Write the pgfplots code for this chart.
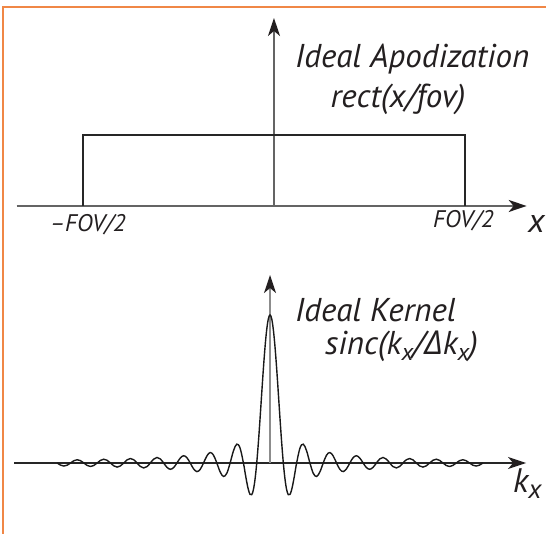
\documentclass[border=0pt]{standalone}
\usepackage{pgfplots}
\pgfplotsset{compat=1.18}
\usepackage{pgfplotstable}
\usetikzlibrary{arrows.meta}
\usepackage{fontspec}
\setmainfont{PT Sans}
\newfontfamily\greekfont{Open Sans}
\definecolor{borderorange}{RGB}{240,135,70}
\definecolor{txt}{RGB}{35,31,32}
\definecolor{axgray}{RGB}{100,100,100}

\pgfplotstableread{
x y
-16 0
-15.75 -0.0143
-15.5 -0.0205
-15.25 -0.0148
-15 0
-14.75 0.0153
-14.5 0.0220
-14.25 0.0158
-14 0
-13.75 -0.0164
-13.5 -0.0236
-13.25 -0.0170
-13 0
-12.75 0.0177
-12.5 0.0255
-12.25 0.0184
-12 0
-11.75 -0.0192
-11.5 -0.0277
-11.25 -0.0200
-11 0
-10.75 0.0209
-10.5 0.0303
-10.25 0.0220
-10 0
-9.75 -0.0231
-9.5 -0.0335
-9.25 -0.0243
-9 0
-8.75 0.0257
-8.5 0.0374
-8.25 0.0273
-8 0
-7.75 -0.0290
-7.5 -0.0424
-7.25 -0.0310
-7 0
-6.75 0.0333
-6.5 0.0490
-6.25 0.0360
-6 0
-5.75 -0.0391
-5.5 -0.0579
-5.25 -0.0429
-5 0
-4.75 0.0474
-4.5 0.0707
-4.25 0.0530
-4 0
-3.75 -0.0600
-3.5 -0.0909
-3.25 -0.0693
-3 0
-2.75 0.0818
-2.5 0.1273
-2.25 0.1000
-2 0
-1.875 -0.0650
-1.75 -0.1286
-1.625 -0.1810
-1.5 -0.2122
-1.375 -0.2139
-1.25 -0.1801
-1.125 -0.1083
-1 0
-0.875 0.1392
-0.75 0.3001
-0.625 0.4705
-0.5 0.6366
-0.375 0.7842
-0.25 0.9003
-0.125 0.9745
0 1
0.125 0.9745
0.25 0.9003
0.375 0.7842
0.5 0.6366
0.625 0.4705
0.75 0.3001
0.875 0.1392
1 0
1.125 -0.1083
1.25 -0.1801
1.375 -0.2139
1.5 -0.2122
1.625 -0.1810
1.75 -0.1286
1.875 -0.0650
2 0
2.25 0.1000
2.5 0.1273
2.75 0.0818
3 0
3.25 -0.0693
3.5 -0.0909
3.75 -0.0600
4 0
4.25 0.0530
4.5 0.0707
4.75 0.0474
5 0
5.25 -0.0429
5.5 -0.0579
5.75 -0.0391
6 0
6.25 0.0360
6.5 0.0490
6.75 0.0333
7 0
7.25 -0.0310
7.5 -0.0424
7.75 -0.0290
8 0
8.25 0.0273
8.5 0.0374
8.75 0.0257
9 0
9.25 -0.0243
9.5 -0.0335
9.75 -0.0231
10 0
10.25 0.0220
10.5 0.0303
10.75 0.0209
11 0
11.25 -0.0200
11.5 -0.0277
11.75 -0.0192
12 0
12.25 0.0184
12.5 0.0255
12.75 0.0177
13 0
13.25 -0.0170
13.5 -0.0236
13.75 -0.0164
14 0
14.25 0.0158
14.5 0.0220
14.75 0.0153
15 0
15.25 -0.0148
15.5 -0.0205
15.75 -0.0143
16 0
}\sincdata

\begin{document}
\begin{tikzpicture}[x=1pt,y=1pt]
\useasboundingbox (0,0) rectangle (546,534);
\fill[white] (0,0) rectangle (546,534);
% orange frame
\draw[borderorange, line width=2.2pt] (3.3,0) -- (3.3,527) -- (546,527);

% top panel: rect
\begin{axis}[
  at={(16.7pt,328pt)}, anchor=south west,
  x=191pt, y=71pt,
  xmin=-1.347, xmax=1.323, ymin=0, ymax=2.648,
  axis lines=middle, clip=false,
  xtick=\empty, ytick=\empty,
  axis line style={axgray, line width=1.8pt},
  x axis line style={-{Stealth[length=18pt,width=12pt,inset=5pt,color=txt]}},
  y axis line style={-{Stealth[length=18pt,width=12pt,inset=5pt,color=txt]}},
]
\addplot[black!85, line width=1.7pt, mark=none] coordinates {(-1,0) (-1,1) (1,1) (1,0)};
\end{axis}

% bottom panel: sinc
\begin{axis}[
  at={(14pt,71pt)}, anchor=south west,
  x=13.3pt, y=148pt,
  xmin=-19.25, xmax=19.25, ymin=0, ymax=1.27,
  axis lines=middle, clip=false,
  xtick=\empty, ytick=\empty,
  axis line style={axgray, line width=1.8pt},
  x axis line style={black!85, line width=1.5pt, -{Stealth[length=18pt,width=12pt,inset=5pt,color=txt]}},
  y axis line style={black!45, -{Stealth[length=18pt,width=12pt,inset=5pt,color=txt]}},
]
\addplot[black!90, line width=1.4pt, smooth, tension=0.6, mark=none] table[x=x,y=y] {\sincdata};
\end{axis}

% texts
\begin{scope}[every node/.style={inner sep=0pt, anchor=base west, text=txt}]
\node at (295,466) {\fontsize{33pt}{36pt}\selectfont\itshape Ideal Apodization};
\node at (330.4,426) {\fontsize{33pt}{36pt}\selectfont\itshape rect(x/fov)};
\node at (50,302.5) {\fontsize{24pt}{28pt}\selectfont\itshape --FOV/2};
\node at (433,306) {\fontsize{24pt}{28pt}\selectfont\itshape FOV/2};
\node at (528,301) {\fontsize{34pt}{38pt}\selectfont\itshape x};
\node at (295,212) {\fontsize{33pt}{36pt}\selectfont\itshape Ideal Kernel};
\node at (325,179) {\fontsize{33pt}{36pt}\selectfont\itshape sinc(k\raisebox{-0.35ex}{\fontsize{24pt}{26pt}\selectfont x}/{\greekfont\itshape Δ}k\raisebox{-0.35ex}{\fontsize{24pt}{26pt}\selectfont x})};
\node at (513,41) {\fontsize{34pt}{38pt}\selectfont\itshape k\raisebox{-0.35ex}{\fontsize{27pt}{30pt}\selectfont x}};
\end{scope}
\end{tikzpicture}
\end{document}
